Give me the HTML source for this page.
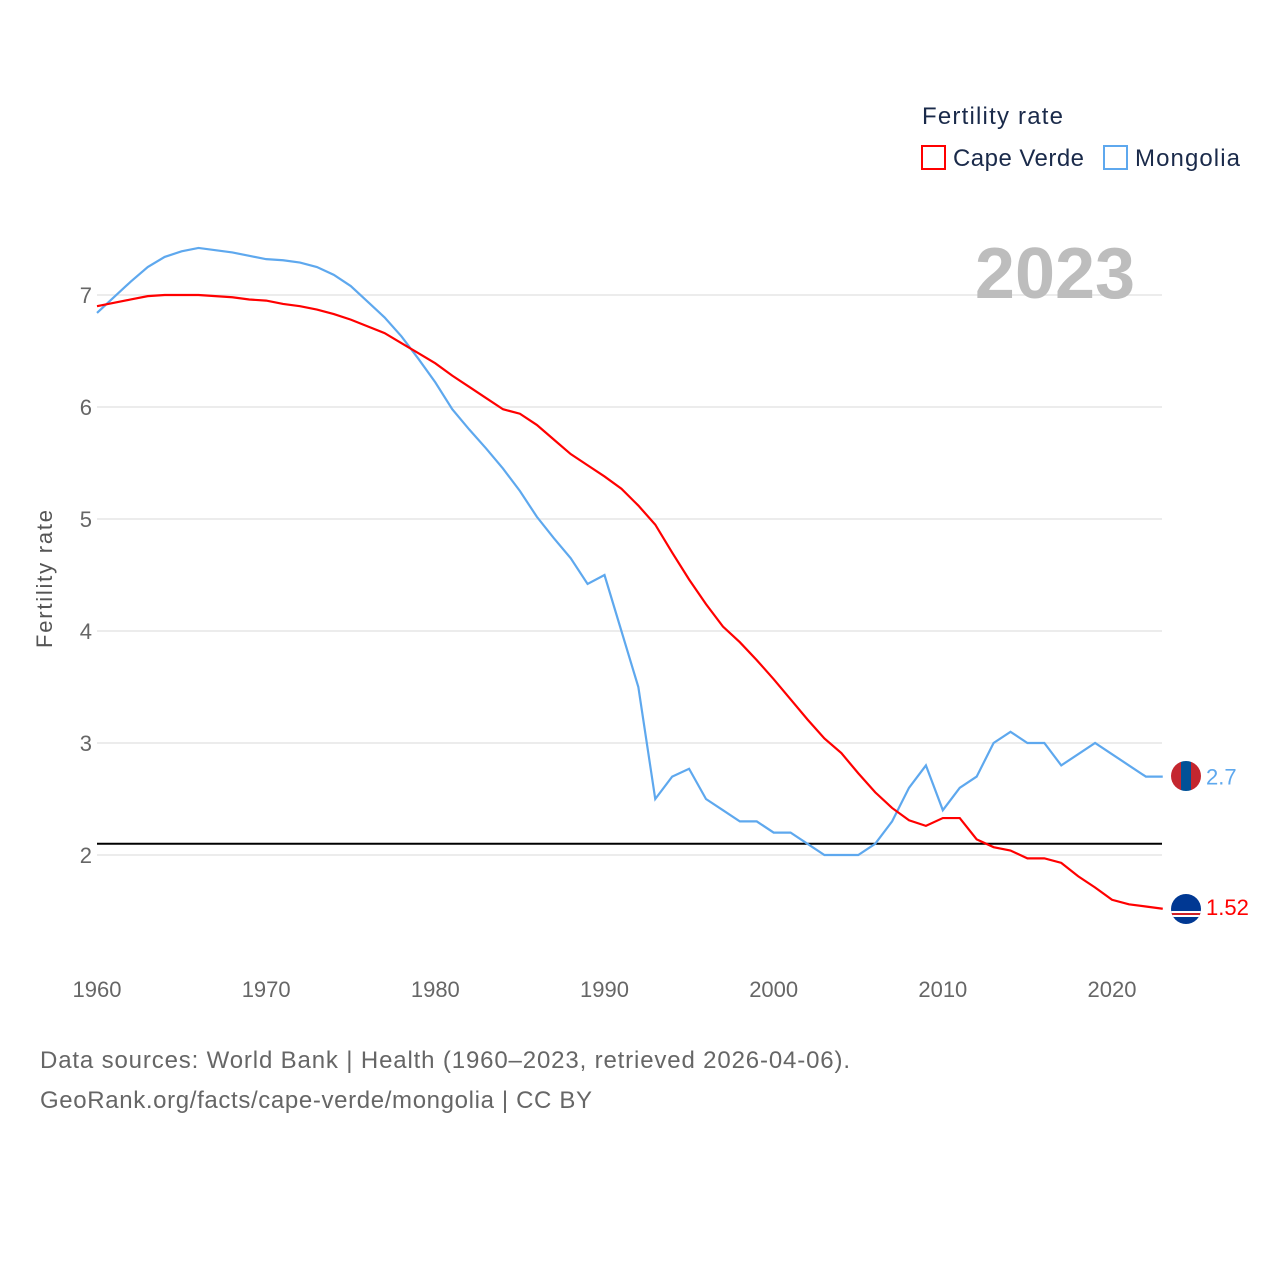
<!DOCTYPE html>
<html><head><meta charset="utf-8"><style>
body{margin:0;background:#fff;font-family:"Liberation Sans",sans-serif;}
svg text{font-family:"Liberation Sans",sans-serif;}
</style></head><body>
<svg width="1280" height="1280" xmlns="http://www.w3.org/2000/svg">
<g id="grid"></g>
<g id="yticks"></g>
<g id="xticks"></g>
<text x="1055" y="298" font-size="72" font-weight="bold" fill="#bdbdbd" text-anchor="middle">2023</text>
<text x="52" y="579" font-size="22" fill="#555" text-anchor="middle" textLength="138" transform="rotate(-90 52 579)">Fertility rate</text>
<line id="refline" x1="97" x2="1162" stroke="#000" stroke-width="2"/>
<g id="series"></g>
<text x="922" y="124" font-size="24" fill="#1a2a4a" textLength="141">Fertility rate</text>
<g><rect x="922" y="146" width="23" height="23" fill="none" stroke="#ff0000" stroke-width="2"/><text x="953" y="166" font-size="24" fill="#1a2a4a" textLength="131">Cape Verde</text></g>
<g><rect x="1104" y="146" width="23" height="23" fill="none" stroke="#5ea8ee" stroke-width="2"/><text x="1135" y="166" font-size="24" fill="#1a2a4a" textLength="105">Mongolia</text></g>
<g><clipPath id="c1"><circle cx="1186" cy="776" r="15"/></clipPath><g clip-path="url(#c1)"><rect x="1171" y="761" width="10" height="30" fill="#c4272f"/><rect x="1181" y="761" width="10" height="30" fill="#015197"/><rect x="1191" y="761" width="10" height="30" fill="#c4272f"/></g></g>
<g><clipPath id="c2"><circle cx="1186" cy="909" r="15"/></clipPath><g clip-path="url(#c2)"><rect x="1171" y="894" width="30" height="30" fill="#003893"/><rect x="1171" y="911" width="30" height="6" fill="#fff"/><rect x="1171" y="913" width="30" height="2" fill="#cf2027"/></g></g>
<text id="mlabel" x="1206" y="784" font-size="22" fill="#5ea8ee">2.7</text>
<text id="clabel" x="1206" y="915" font-size="22" fill="#ff0000">1.52</text>
<text x="40" y="1068" font-size="24" fill="#666" textLength="810">Data sources: World Bank | Health (1960–2023, retrieved 2026-04-06).</text>
<text x="40" y="1108" font-size="24" fill="#666" textLength="552">GeoRank.org/facts/cape-verde/mongolia | CC BY</text>
</svg>
<script>
const years=[];for(let y=1960;y<=2023;y++)years.push(y);
const capeVerde=[6.9,6.93,6.96,6.99,7.0,7.0,7.0,6.99,6.98,6.96,6.95,6.92,6.9,6.87,6.83,6.78,6.72,6.66,6.57,6.48,6.39,6.28,6.18,6.08,5.98,5.94,5.84,5.71,5.58,5.48,5.38,5.27,5.12,4.95,4.7,4.46,4.24,4.04,3.9,3.74,3.57,3.39,3.21,3.04,2.91,2.73,2.56,2.42,2.31,2.26,2.33,2.33,2.14,2.07,2.04,1.97,1.97,1.93,1.81,1.71,1.6,1.56,1.54,1.52];
const mongolia=[6.84,6.98,7.12,7.25,7.34,7.39,7.42,7.4,7.38,7.35,7.32,7.31,7.29,7.25,7.18,7.08,6.94,6.8,6.63,6.43,6.22,5.98,5.8,5.63,5.45,5.25,5.02,4.83,4.65,4.42,4.5,4.0,3.5,2.5,2.7,2.77,2.5,2.4,2.3,2.3,2.2,2.2,2.1,2.0,2.0,2.0,2.1,2.3,2.6,2.8,2.4,2.6,2.7,3.0,3.1,3.0,3.0,2.8,2.9,3.0,2.9,2.8,2.7,2.7];
const yTicks=[2,3,4,5,6,7];
const xTicks=[1960,1970,1980,1990,2000,2010,2020];
const refValue=2.1;
const NS="http://www.w3.org/2000/svg";
const xs=y=>97+(y-1960)*(1015/60);
const ys=v=>295+(7-v)*112;
const grid=document.getElementById('grid'),yt=document.getElementById('yticks'),xt=document.getElementById('xticks');
yTicks.forEach(t=>{
 const l=document.createElementNS(NS,'line');
 l.setAttribute('x1',97);l.setAttribute('x2',1162);l.setAttribute('y1',ys(t));l.setAttribute('y2',ys(t));
 l.setAttribute('stroke','#e6e6e6');l.setAttribute('stroke-width','1.5');
 
 
 grid.appendChild(l);
 const tx=document.createElementNS(NS,'text');
 tx.setAttribute('x',92);tx.setAttribute('y',ys(t)+8);tx.setAttribute('text-anchor','end');
 tx.setAttribute('font-size','22');tx.setAttribute('fill','#666');tx.textContent=t;
 
 
 yt.appendChild(tx);
});
xTicks.forEach(t=>{
 const tx=document.createElementNS(NS,'text');
 tx.setAttribute('x',xs(t));tx.setAttribute('y',997);tx.setAttribute('text-anchor','middle');
 tx.setAttribute('font-size','22');tx.setAttribute('fill','#666');tx.textContent=t;
 
 
 xt.appendChild(tx);
});
const rl=document.getElementById('refline');rl.setAttribute('y1',ys(refValue));rl.setAttribute('y2',ys(refValue));
const ser=document.getElementById('series');
function draw(vals,color,name){
 const p=document.createElementNS(NS,'polyline');
 p.setAttribute('points',vals.map((v,i)=>xs(years[i])+','+ys(v)).join(' '));
 p.setAttribute('fill','none');p.setAttribute('stroke',color);p.setAttribute('stroke-width','2.2');
 
 
 ser.appendChild(p);
}
draw(mongolia,'#5ea8ee','mongolia-line');
draw(capeVerde,'#ff0000','cape-verde-line');
const ml=document.getElementById('mlabel'),cl=document.getElementById('clabel');
ml.textContent=mongolia[mongolia.length-1];ml.setAttribute('y',ys(mongolia[mongolia.length-1])+8);
cl.textContent=capeVerde[capeVerde.length-1];cl.setAttribute('y',ys(capeVerde[capeVerde.length-1])+6);
</script>
</body></html>
